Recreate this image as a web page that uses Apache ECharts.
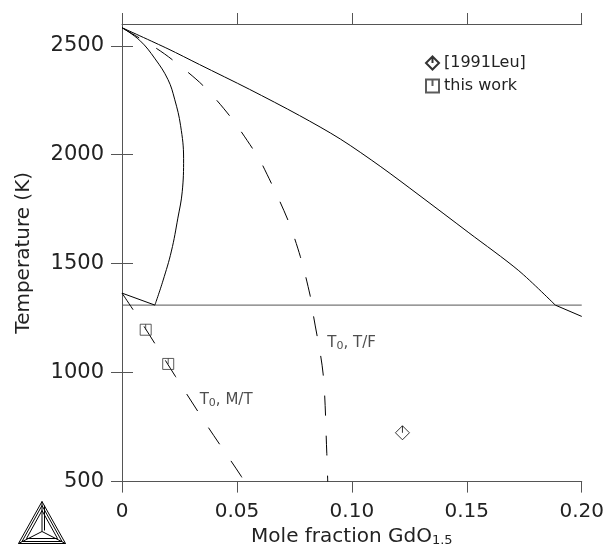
<!DOCTYPE html>
<html>
<head>
<meta charset="utf-8">
<script src="https://cdn.jsdelivr.net/npm/echarts@6/dist/echarts.min.js"></script>
<style>
html,body{margin:0;padding:0;background:#fff;}
#c{width:607px;height:552px;}
</style>
</head>
<body>
<div id="c"></div>
<script>
// ---- data ----
const xTicks = [0, 0.05, 0.10, 0.15, 0.20];
const yTicks = [500, 1000, 1500, 2000, 2500];

const liquidusUpper = [[0,2583],[0.02,2486],[0.0337,2414],[0.0555,2300],[0.0772,2180],[0.095,2072],[0.1126,1945],[0.1292,1815],[0.1509,1642],[0.1726,1468],[0.1885,1310]];
const liquidusLower = [[0.1885,1310],[0.2,1258]];
const solvus = [[0,2583],[0.0077,2525],[0.0144,2440],[0.0200,2345],[0.0229,2255],[0.0255,2133],[0.0268,1982],[0.0262,1830],[0.0243,1709],[0.0215,1558],[0.0178,1421],[0.0143,1310]];
const eutectoid = [[0,1310],[0.2,1310]];
const lowSolvus = [[0,1365],[0.0143,1310]];
const t0TF = [[0,2583],[0.0147,2490],[0.0219,2436],[0.0352,2318],[0.0468,2179],[0.0569,2027],[0.0612,1951],[0.072,1705],[0.0776,1532],[0.0818,1356],[0.0832,1267],[0.0875,994],[0.0891,630],[0.0895,500]];
const t0MT = [[0,1365],[0.0093,1217],[0.0233,982],[0.0374,751],[0.0519,524],[0.053,500]];
const thisWork = [[0.0103,1197],[0.0201,1040]];
const leu1991 = [[0.122,724]];
const curveLabels = [
  {name:'T0, T/F', value:[0.0893,1136], text:'T{s|0}, T/F'},
  {name:'T0, M/T', value:[0.0338,873], text:'T{s|0}, M/T'}
];

const FONT = "'DejaVu Sans', 'Liberation Sans', sans-serif";
const TXT = '#222';
const FRAME = '#555';

const diamondPath = 'path://M0,-1 L1,0 L0,1 L-1,0 Z M0,-1 L0,0';
const squarePath = 'path://M-1,-1 L1,-1 L1,1 L-1,1 Z M0,-1 L0,0';

function lineSeries(name, data, color, dashed, smooth) {
  return {
    name: name, type: 'line', data: data, showSymbol: false, symbol: 'none',
    silent: true, z: 3, smooth: smooth || false,
    lineStyle: {color: color, width: 1, type: dashed ? [20,20] : 'solid'},
    animation: false
  };
}

const chart = echarts.init(document.getElementById('c'), null, {renderer: 'canvas'});

const tickStyle = {show: true, inside: false, length: 11, lineStyle: {color: FRAME, width: 1}};

const option = {
  animation: false,
  backgroundColor: '#fff',
  grid: {left: 122, right: 24, top: 24, bottom: 66, containLabel: false},
  legend: {
    orient: 'vertical', left: 420, top: 50, itemGap: 7,
    itemWidth: 13, itemHeight: 13,
    data: [
      {name: '[1991Leu]', icon: diamondPath},
      {name: 'this work', icon: squarePath}
    ],
    textStyle: {fontFamily: FONT, fontSize: 16, color: TXT, padding: [0,0,0,0]},
    selectedMode: false
  },
  xAxis: [{
    type: 'value', position: 'bottom', min: 0, max: 0.2, interval: 0.05,
    name: '{a|Mole fraction GdO}{s|1.5}', nameLocation: 'middle', nameGap: 43,
    nameTextStyle: {
      rich: {
        a: {fontFamily: FONT, fontSize: 20, color: TXT},
        s: {fontFamily: FONT, fontSize: 13, color: TXT, verticalAlign: 'bottom', padding: [8,0,0,0]}
      }
    },
    axisLine: {show: true, lineStyle: {color: FRAME, width: 1}},
    axisTick: Object.assign({customValues: xTicks}, tickStyle),
    axisLabel: {
      customValues: xTicks, margin: 20, fontFamily: FONT, fontSize: 20, color: TXT,
      formatter: v => v === 0 ? '0' : v.toFixed(2)
    },
    splitLine: {show: false}
  }, {
    type: 'value', position: 'top', min: 0, max: 0.2, interval: 0.05,
    axisLine: {show: true, lineStyle: {color: FRAME, width: 1}},
    axisTick: Object.assign({customValues: xTicks}, tickStyle),
    axisLabel: {show: false}, splitLine: {show: false}
  }],
  yAxis: [{
    type: 'value', position: 'left', min: 500, max: 2600, interval: 500,
    name: 'Temperature (K)', nameLocation: 'middle', nameGap: 88,
    nameTextStyle: {fontFamily: FONT, fontSize: 20, color: TXT},
    axisLine: {show: true, lineStyle: {color: FRAME, width: 1}},
    axisTick: Object.assign({customValues: yTicks}, tickStyle),
    axisLabel: {customValues: yTicks, margin: 18, fontFamily: FONT, fontSize: 21, color: TXT,
      formatter: v => String(v)},
    splitLine: {show: false}
  }, {
    type: 'value', position: 'right', min: 500, max: 2600, interval: 500,
    axisLine: {show: true, lineStyle: {color: FRAME, width: 1}},
    axisTick: Object.assign({customValues: yTicks}, tickStyle),
    axisLabel: {show: false}, splitLine: {show: false}
  }],
  series: [
    lineSeries('eutectoid', eutectoid, FRAME, false),
    lineSeries('liquidusUpper', liquidusUpper, '#000', false, 0.3),
    lineSeries('liquidusLower', liquidusLower, '#000', false),
    lineSeries('solvus', solvus, '#000', false, 0.4),
    lineSeries('lowSolvus', lowSolvus, '#000', false),
    lineSeries('T0 T/F', t0TF, '#000', true, 0.3),
    lineSeries('T0 M/T', t0MT, '#000', true, 0.3),
    {
      name: '[1991Leu]', type: 'scatter', data: leu1991, symbol: diamondPath,
      symbolSize: [14, 14], symbolKeepAspect: true, z: 5,
      itemStyle: {color: 'rgba(0,0,0,0)', borderColor: '#000', borderWidth: 1}
    },
    {
      name: 'this work', type: 'scatter', data: thisWork, symbol: squarePath,
      symbolSize: [11, 11], symbolKeepAspect: true, z: 5,
      itemStyle: {color: 'rgba(0,0,0,0)', borderColor: '#333', borderWidth: 1}
    },
    {
      name: 'curveLabels', type: 'scatter', symbolSize: 0, silent: true, z: 6,
      data: curveLabels.map(d => ({name: d.name, value: d.value, text: d.text})),
      label: {
        show: true, position: [0, 0], align: 'left', verticalAlign: 'middle',
        formatter: p => p.data.text,
        fontFamily: FONT, fontSize: 15, color: TXT,
        rich: {s: {fontFamily: FONT, fontSize: 11, color: TXT, verticalAlign: 'bottom', padding: [6,0,0,0]}}
      }
    }
  ],
  graphic: [{
    type: 'group', left: 16, top: 499, silent: true,
    children: [
      {type: 'polygon', shape: {points: [[23.5,0],[0,42],[47,42]]}, style: {fill: 'none', stroke: '#000', lineWidth: 1}},
      {type: 'polygon', shape: {points: [[23.5,4],[3.5,40],[43.5,40]]}, style: {fill: 'none', stroke: '#000', lineWidth: 1}},
      {type: 'polygon', shape: {points: [[23.5,9],[8,37],[39,37]]}, style: {fill: 'none', stroke: '#000', lineWidth: 1}},
      {type: 'polyline', shape: {points: [[23.5,0],[23.5,30],[0,42]]}, style: {fill: 'none', stroke: '#000', lineWidth: 1}},
      {type: 'polyline', shape: {points: [[23.5,30],[47,42]]}, style: {fill: 'none', stroke: '#000', lineWidth: 1}},
      {type: 'polyline', shape: {points: [[26,4],[26,29]]}, style: {fill: 'none', stroke: '#000', lineWidth: 1}}
    ]
  }]
};
chart.setOption(option);
</script>
</body>
</html>
